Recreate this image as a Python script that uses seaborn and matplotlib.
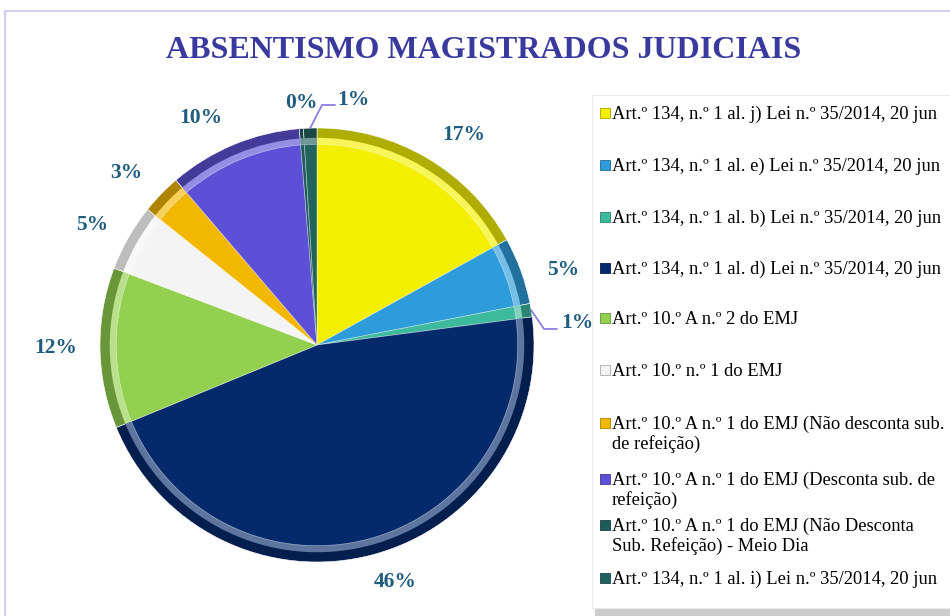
import numpy as np
import matplotlib
matplotlib.use("Agg")
import matplotlib.pyplot as plt
from matplotlib.patches import Rectangle
import seaborn as sns

sns.set_theme(style="white")
plt.rcParams['font.family'] = ['Liberation Serif', 'DejaVu Serif']

# ------------------------------
# data
# ------------------------------
categories = [
    "Art.º 134, n.º 1 al. j) Lei n.º 35/2014, 20 jun",
    "Art.º 134, n.º 1 al. e) Lei n.º 35/2014, 20 jun",
    "Art.º 134, n.º 1 al. b) Lei n.º 35/2014, 20 jun",
    "Art.º 134, n.º 1 al. d) Lei n.º 35/2014, 20 jun",
    "Art.º 10.º A n.º 2 do EMJ",
    "Art.º 10.º n.º 1 do EMJ",
    "Art.º 10.º A n.º 1 do EMJ (Não desconta sub.\nde refeição)",
    "Art.º 10.º A n.º 1 do EMJ (Desconta sub. de\nrefeição)",
    "Art.º 10.º A n.º 1 do EMJ (Não Desconta\nSub. Refeição) - Meio Dia",
    "Art.º 134, n.º 1 al. i) Lei n.º 35/2014, 20 jun",
]
shares = [17, 5, 1, 46, 12, 5, 3, 10, 0.3, 1]

colors = ['#F2F000', '#2E9BDA', '#3DB99C', '#052A6C', '#93D050',
          '#F4F4F4', '#F2B800', '#5E50D6', '#1D5B5C', '#22625F']

title = "ABSENTISMO MAGISTRADOS JUDICIAIS"
label_color = '#1F5C7E'

# ------------------------------
# layout (pixels of the 950x616 canvas)
# ------------------------------
W, H = 950, 616
cx, cy, R = 317, 345, 217
lim = 1.4

fig = plt.figure(figsize=(9.5, 6.16), dpi=100)
fig.patch.set_facecolor('white')

# outer frame of the chart area
fig.add_artist(Rectangle((5 / W, -0.1), 1.2, 1 - 11 / H + 0.1, transform=fig.transFigure,
                         fill=False, edgecolor='#D2CEF0', linewidth=1.6))

side = 2 * lim * R
ax = fig.add_axes([(cx - side / 2) / W, (H - cy - side / 2) / H, side / W, side / H])


def shade(c, f):
    rgb = np.array(matplotlib.colors.to_rgb(c))
    if f < 1:
        return tuple(rgb * f)
    return tuple(rgb + (1 - rgb) * (f - 1))


dark = [shade(c, 0.72) for c in colors]
light = [shade(c, 1.35) for c in colors]
dark[5] = '#BDBDBD'

# bevelled pie: dark rim, light ring, then base colour
ax.pie(shares, colors=dark, startangle=90, counterclock=False, radius=1.0,
       wedgeprops=dict(edgecolor='white', linewidth=0.4))
ax.pie(shares, colors=light, startangle=90, counterclock=False, radius=0.955,
       wedgeprops=dict(linewidth=0))
ax.pie(shares, colors=colors, startangle=90, counterclock=False, radius=0.925,
       wedgeprops=dict(edgecolor=(1, 1, 1, 0.5), linewidth=0.5))
ax.set_xlim(-lim, lim)
ax.set_ylim(-lim, lim)
ax.set_aspect('auto')
ax.axis('off')

# percentage labels (positions in pie radius units)
label_xy = [(0.677, 0.968), (1.134, 0.346), (1.198, 0.101), (0.36, -1.092),
            (-1.203, -0.014), (-1.037, 0.553), (-0.88, 0.793), (-0.535, 1.046),
            (-0.074, 1.115), (0.166, 1.129)]
for v, (x, y) in zip(shares, label_xy):
    ax.text(x, y, f"{round(v)}%", ha='center', va='center', fontsize=15.5,
            fontweight='bold', color=label_color)

# leader lines for the thin slices
total = sum(shares)
cum = np.cumsum([0] + shares)
leaders = {2: [(1.046, 0.074), (1.106, 0.074)], 9: [(0.023, 1.106), (0.083, 1.106)]}
for i, pts in leaders.items():
    mid = np.deg2rad(90 - 360 * (cum[i] + shares[i] / 2) / total)
    xs = [np.cos(mid)] + [p[0] for p in pts]
    ys = [np.sin(mid)] + [p[1] for p in pts]
    ax.plot(xs, ys, color='#8B80E2', linewidth=1.3)

# title
fig.text(484 / W, 1 - 50 / H, title, ha='center', va='center', fontsize=23,
         fontweight='bold', color='#3A3A9E')

# legend box with shadow
fig.add_artist(Rectangle((595 / W, -0.1), 0.6, (H - 99) / H + 0.1, transform=fig.transFigure,
                         facecolor='#9A9A9A', edgecolor='none', alpha=0.5))
fig.add_artist(Rectangle((592 / W, (H - 608) / H), 0.6, (608 - 95) / H, transform=fig.transFigure,
                         facecolor='white', edgecolor='#EAEAEA', linewidth=0.8))

legend_y = [113, 165, 217, 268, 318, 370, 423, 479, 525, 578]
line_h = 20
for name, c, y in zip(categories, colors, legend_y):
    fig.add_artist(Rectangle((600 / W, (H - y - 5) / H), 10 / W, 10 / H,
                             transform=fig.transFigure, facecolor=c,
                             edgecolor=shade(c, 0.7), linewidth=0.6))
    for k, line in enumerate(name.split('\n')):
        fig.text(612 / W, (H - y - 6 - k * line_h) / H, line, ha='left', va='baseline',
                 fontsize=13.3, color='black')

fig.savefig("out.png", dpi=100)
